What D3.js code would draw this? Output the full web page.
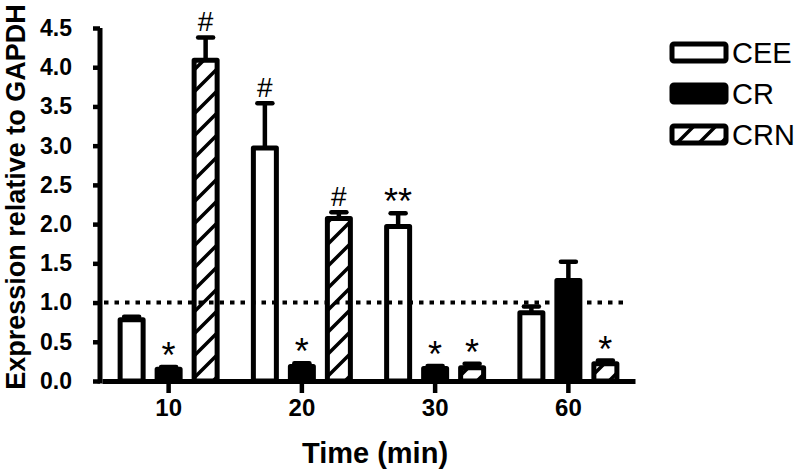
<!DOCTYPE html>
<html lang="en">
<head>
<meta charset="UTF-8">
<title>Expression relative to GAPDH</title>
<script src="https://cdn.jsdelivr.net/npm/d3@7"></script>
<style>
  body { margin: 0; background: #fff; }
  text { font-family: Arial, "Liberation Sans", sans-serif; }
</style>
</head>
<body>
<script>
    // data
    var times = ['10', '20', '30', '60']
    var series = ['CEE', 'CR', 'CRN']
    var ceeVals = [0.78, 2.97, 1.97, 0.87]
    var ceeErr  = [0.04, 0.57, 0.17, 0.08]
    var crVals  = [0.15, 0.185, 0.16, 1.28]
    var crErr   = [0.03, 0.04, 0.03, 0.24]
    var crnVals = [4.09, 2.07, 0.17, 0.22]
    var crnErr  = [0.29, 0.08, 0.05, 0.04]
    // significance marks above each bar
    var ceeMarks = ['', '#', '**', '']
    var crMarks  = ['*', '*', '*', '']
    var crnMarks = ['#', '#', '*', '*']
    var yTicks = [0, 0.5, 1, 1.5, 2, 2.5, 3, 3.5, 4, 4.5]
    var refLine = 1.0

    var width = 800, height = 475
    var vals = {CEE: ceeVals, CR: crVals, CRN: crnVals}
    var errs = {CEE: ceeErr, CR: crErr, CRN: crnErr}
    var marks = {CEE: ceeMarks, CR: crMarks, CRN: crnMarks}

    var rows = []
    series.forEach(function (s) {
        times.forEach(function (t, i) {
            rows.push({series: s, time: t, v: vals[s][i], e: errs[s][i], m: marks[s][i]})
        })
    })

    var svg = d3.select('body').append('svg')
        .attr('width', width)
        .attr('height', height)

    var defs = svg.append('defs')
    var pat = defs.append('pattern')
        .attr('id', 'hatch')
        .attr('patternUnits', 'userSpaceOnUse')
        .attr('width', 22).attr('height', 22)
    pat.append('rect').attr('width', 22).attr('height', 22).attr('fill', '#fff')
    pat.append('path')
        .attr('d', 'M-5,5 L5,-5 M0,22 L22,0 M17,27 L27,17')
        .attr('stroke', '#000').attr('stroke-width', 3.5)

    var fills = {CEE: '#fff', CR: '#000', CRN: 'url(#hatch)'}

    var x = d3.scaleBand().domain(times).range([102, 635])
    var xs = d3.scaleBand().domain(series).range([-55.5, 55.5])
    var y = d3.scaleLinear().domain([0, 4.5]).range([381, 28])

    var barW = 23

    // bars
    svg.selectAll('.bar')
        .data(rows)
        .enter()
        .append('rect')
        .attr('class', 'bar')
        .attr('x', d => x(d.time) + x.bandwidth() / 2 + xs(d.series) + xs.bandwidth() / 2 - barW / 2)
        .attr('y', d => y(d.v))
        .attr('width', barW)
        .attr('height', d => y(0) - y(d.v))
        .attr('fill', d => fills[d.series])
        .attr('stroke', '#000')
        .attr('stroke-width', 5)
        .attr('stroke-linejoin', 'round')

    // dotted reference line at 1.0
    svg.append('line')
        .attr('x1', 104).attr('x2', 628)
        .attr('y1', y(refLine)).attr('y2', y(refLine))
        .attr('stroke', '#000')
        .attr('stroke-width', 4)
        .attr('stroke-dasharray', '4.5,6')

    var cx = d => x(d.time) + x.bandwidth() / 2 + xs(d.series) + xs.bandwidth() / 2

    // error bars
    var eb = svg.selectAll('.err').data(rows).enter().append('g').attr('class', 'err')
    eb.append('line')
        .attr('x1', cx).attr('x2', cx)
        .attr('y1', d => y(d.v)).attr('y2', d => y(d.v + d.e))
        .attr('stroke', '#000').attr('stroke-width', 4.5)
    eb.append('line')
        .attr('x1', d => cx(d) - 7.5).attr('x2', d => cx(d) + 7.5)
        .attr('y1', d => y(d.v + d.e)).attr('y2', d => y(d.v + d.e))
        .attr('stroke', '#000').attr('stroke-width', 4.5)
        .attr('stroke-linecap', 'round')

    // significance marks
    svg.selectAll('.mark')
        .data(rows.filter(d => d.m !== ''))
        .enter()
        .append('text')
        .attr('class', 'mark')
        .attr('x', cx)
        .attr('y', d => d.m === '#' ? y(d.v + d.e) - 6 : y(d.v + d.e) + 1)
        .attr('text-anchor', 'middle')
        .attr('font-size', d => d.m === '#' ? 28 : 36)
        .text(d => d.m)

    // axes
    var yAxis = svg.append('g')
        .attr('transform', 'translate(100,0)')
        .call(d3.axisLeft(y).tickValues(yTicks).tickFormat(d3.format('.1f'))
            .tickSize(7).tickSizeOuter(0).tickPadding(21))
    yAxis.select('.domain').attr('stroke-width', 5).attr('d', 'M0,' + y(4.5) + 'V' + (y(0) + 2.5))
    yAxis.selectAll('.tick line').attr('stroke-width', 4.5)
    yAxis.selectAll('.tick text')
        .attr('font-size', 23).attr('font-weight', 'bold')
        .attr('font-family', 'Arial, "Liberation Sans", sans-serif').attr('fill', '#000')

    var xAxis = svg.append('g')
        .attr('transform', 'translate(0,' + y(0) + ')')
        .call(d3.axisBottom(x).tickSize(12).tickSizeOuter(0).tickPadding(6))
    xAxis.select('.domain').attr('stroke-width', 5)
    xAxis.selectAll('.tick line').attr('stroke-width', 4.5)
    xAxis.selectAll('.tick text')
        .attr('font-size', 24).attr('font-weight', 'bold')
        .attr('font-family', 'Arial, "Liberation Sans", sans-serif').attr('fill', '#000')

    // axis titles
    svg.append('text')
        .attr('transform', 'translate(25,197) rotate(-90)')
        .attr('text-anchor', 'middle')
        .attr('font-size', 27).attr('font-weight', 'bold')
        .text('Expression relative to GAPDH')
    svg.append('text')
        .attr('x', 375).attr('y', 463)
        .attr('text-anchor', 'middle')
        .attr('font-size', 29).attr('font-weight', 'bold')
        .text('Time (min)')

    // legend
    var legend = svg.selectAll('.legend')
        .data(series)
        .enter()
        .append('g')
        .attr('class', 'legend')
        .attr('transform', (d, i) => 'translate(672,' + (44 + i * 41) + ')')
    legend.append('rect')
        .attr('width', 54).attr('height', 17)
        .attr('rx', 2)
        .attr('fill', d => fills[d])
        .attr('stroke', '#000').attr('stroke-width', 5)
        .attr('stroke-linejoin', 'round')
    legend.append('text')
        .attr('x', 60).attr('y', 19)
        .attr('font-size', 29)
        .text(d => d)
</script>
</body>
</html>
